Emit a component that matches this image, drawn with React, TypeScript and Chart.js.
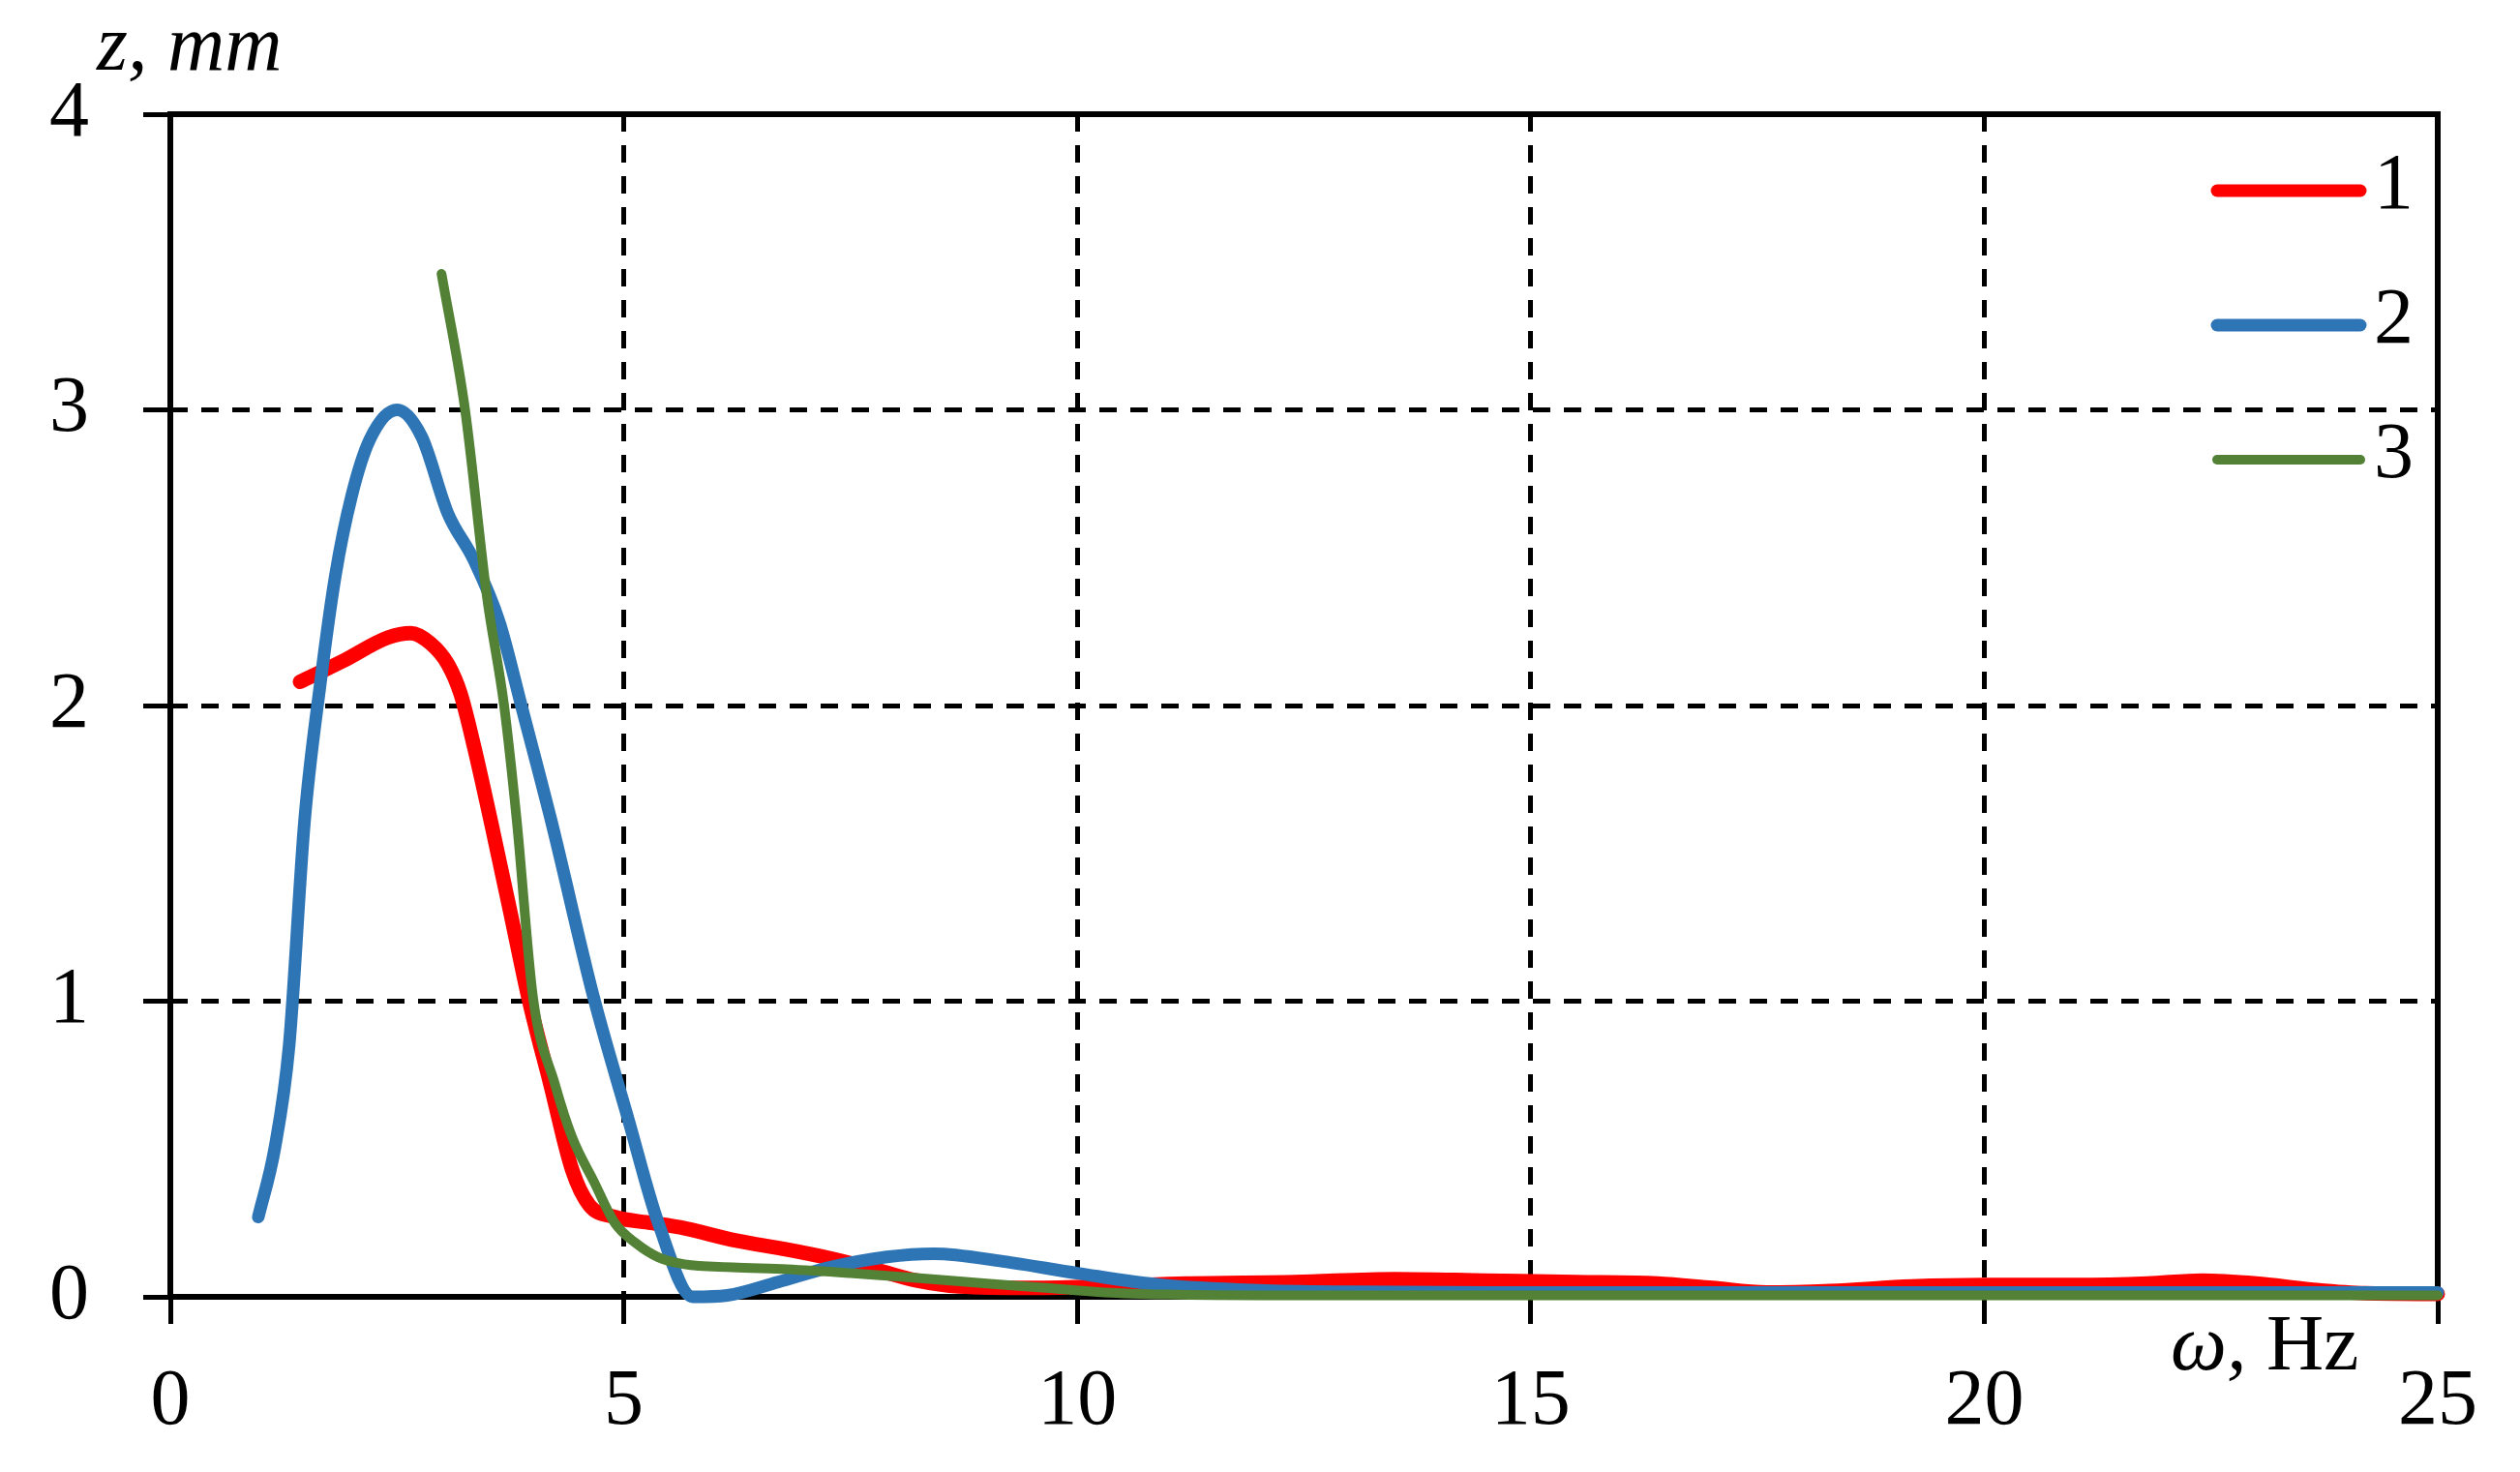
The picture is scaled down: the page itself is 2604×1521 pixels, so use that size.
import React, { useEffect, useRef } from 'react';
import { Chart, registerables } from 'chart.js';

Chart.register(...registerables);

// ---- Data ----
const X_TICKS = [0, 5, 10, 15, 20, 25];
const Y_TICKS = [0, 1, 2, 3, 4];
const SERIES_LABELS = ['1', '2', '3'];
const Y_TITLE = 'z, mm';
const X_TITLE_ITALIC = 'ω,';
const X_TITLE_ROMAN = ' Hz';

const S1_X = [1.43, 1.9, 2.4, 2.65, 2.87, 3.06, 3.2, 3.35, 3.54, 3.75, 3.95, 4.19, 4.43, 4.62, 4.9, 5.3, 5.62, 6.24, 6.8, 7.28, 7.8, 8.23, 8.7, 9.5, 10.3, 11.2, 12.4, 13.5, 14.5, 15.5, 16.4, 17.0, 17.6, 18.3, 19.2, 20.0, 21.0, 21.8, 22.4, 23.0, 23.6, 24.2, 25];
const S1_Y = [2.08, 2.15, 2.23, 2.245, 2.21, 2.14, 2.04, 1.86, 1.6, 1.3, 1.01, 0.72, 0.43, 0.31, 0.27, 0.25, 0.235, 0.19, 0.16, 0.13, 0.09, 0.055, 0.035, 0.03, 0.035, 0.045, 0.05, 0.06, 0.055, 0.05, 0.045, 0.03, 0.015, 0.02, 0.035, 0.04, 0.04, 0.045, 0.055, 0.045, 0.025, 0.012, 0.01];

const S2_X = [0.97, 1.15, 1.31, 1.48, 1.65, 1.82, 2.0, 2.2, 2.5, 2.77, 3.06, 3.35, 3.63, 3.87, 4.2, 4.67, 5.05, 5.38, 5.76, 6.14, 6.7, 7.28, 7.9, 8.42, 9.18, 10.0, 10.93, 12.0, 13.0, 15.0, 20.0, 25.0];
const S2_Y = [0.27, 0.5, 0.85, 1.61, 2.065, 2.44, 2.71, 2.9, 3.0, 2.91, 2.65, 2.49, 2.28, 2.0, 1.61, 1.01, 0.6, 0.25, 0.0, 0.005, 0.05, 0.1, 0.135, 0.146, 0.12, 0.08, 0.04, 0.022, 0.017, 0.015, 0.015, 0.015];

const S3_X = [2.99, 3.25, 3.49, 3.68, 3.82, 4.0, 4.24, 4.43, 4.67, 4.9, 5.14, 5.38, 5.67, 6.2, 6.8, 7.5, 8.23, 9.0, 9.66, 10.3, 11.0, 12.0, 15.0, 20.0, 25.0];
const S3_Y = [3.46, 3.0, 2.37, 2.0, 1.61, 1.01, 0.72, 0.54, 0.39, 0.25, 0.18, 0.134, 0.11, 0.1, 0.093, 0.08, 0.064, 0.045, 0.03, 0.015, 0.008, 0.005, 0.005, 0.005, 0.005];

const COLORS = ['#FF0000', '#2E75B6', '#538135'];
const WIDTHS = [15, 13, 10];

const FONT = "'Liberation Serif', 'DejaVu Serif', serif";
const FONT_SIZE = 82;

const toPoints = (xs: number[], ys: number[]) => xs.map((x, i) => ({ x, y: ys[i] }));

const framePlugin = {
  id: 'frame',
  beforeDatasetsDraw(chart: any) {
    const { ctx, chartArea: a } = chart;
    ctx.save();
    ctx.strokeStyle = '#000';
    ctx.lineWidth = 6;
    ctx.setLineDash([]);
    ctx.strokeRect(a.left, a.top, a.right - a.left, a.bottom - a.top);
    ctx.restore();
  },
};

const textPlugin = {
  id: 'texts',
  afterDraw(chart: any) {
    const { ctx, chartArea: a } = chart;
    ctx.save();
    ctx.fillStyle = '#000';
    ctx.textBaseline = 'alphabetic';
    ctx.textAlign = 'left';
    // y title
    ctx.font = `italic ${FONT_SIZE}px ${FONT}`;
    ctx.fillText(Y_TITLE, a.left - 76, a.top - 46);
    // x title
    const xl = a.right - 276;
    const yb = a.bottom + 75;
    ctx.font = `italic ${FONT_SIZE}px ${FONT}`;
    ctx.fillText(X_TITLE_ITALIC, xl, yb);
    const w = ctx.measureText(X_TITLE_ITALIC).width;
    ctx.font = `${FONT_SIZE}px ${FONT}`;
    ctx.fillText(X_TITLE_ROMAN, xl + w, yb);
    // legend
    const ds = chart.data.datasets;
    ds.forEach((d: any, i: number) => {
      const y = a.top + 79 + i * 139;
      ctx.strokeStyle = d.borderColor;
      ctx.lineWidth = Math.min(d.borderWidth, 13);
      ctx.lineCap = 'round';
      ctx.beginPath();
      ctx.moveTo(a.right - 228, y);
      ctx.lineTo(a.right - 80, y);
      ctx.stroke();
      ctx.font = `${FONT_SIZE}px ${FONT}`;
      ctx.textBaseline = 'middle';
      ctx.fillText(d.label, a.right - 66, y - 4);
    });
    ctx.restore();
  },
};

export default function App() {
  const ref = useRef<HTMLCanvasElement | null>(null);
  useEffect(() => {
    document.body.style.margin = '0';
    if (!ref.current) return;
    const series = [toPoints(S1_X, S1_Y), toPoints(S2_X, S2_Y), toPoints(S3_X, S3_Y)];
    const edgeTransparent = (edges: number[]) => (c: any) =>
      c.tick && edges.includes(c.tick.value) ? 'rgba(0,0,0,0)' : '#000';
    const chart = new Chart(ref.current, {
      type: 'line',
      data: {
        datasets: series.map((pts, i) => ({
          label: SERIES_LABELS[i],
          data: pts,
          borderColor: COLORS[i],
          backgroundColor: COLORS[i],
          borderWidth: WIDTHS[i],
          borderCapStyle: 'round',
          borderJoinStyle: 'round',
          pointRadius: 0,
          fill: false,
          cubicInterpolationMode: 'monotone',
          clip: false,
          order: series.length - i,
        })),
      },
      options: {
        responsive: false,
        animation: false,
        events: [],
        layout: { padding: { top: 118, right: 85, left: 0, bottom: 0 } },
        plugins: { legend: { display: false }, tooltip: { enabled: false }, title: { display: false } },
        scales: {
          x: {
            type: 'linear',
            min: 0,
            max: 25,
            afterFit: (s: any) => { s.height = 181; },
            afterBuildTicks: (s: any) => { s.ticks = X_TICKS.map((v) => ({ value: v })); },
            ticks: {
              font: { family: FONT, size: FONT_SIZE },
              color: '#000',
              padding: 32,
              maxRotation: 0,
              autoSkip: false,
              callback: (v: any) => String(v),
            },
            grid: {
              color: edgeTransparent([0, 25]),
              lineWidth: 5,
              tickLength: 28,
              tickWidth: 5,
              tickColor: '#000',
              tickBorderDash: [],
            },
            border: { display: false, dash: [18, 14] },
          },
          y: {
            type: 'linear',
            min: 0,
            max: 4,
            afterFit: (s: any) => { s.width = 176; },
            afterBuildTicks: (s: any) => { s.ticks = Y_TICKS.map((v) => ({ value: v })); },
            ticks: {
              font: { family: FONT, size: FONT_SIZE },
              color: '#000',
              padding: 56,
              autoSkip: false,
              callback: (v: any) => String(v),
            },
            grid: {
              color: edgeTransparent([0, 4]),
              lineWidth: 5,
              tickLength: 28,
              tickWidth: 5,
              tickColor: '#000',
              tickBorderDash: [],
            },
            border: { display: false, dash: [18, 14] },
          },
        },
      },
      plugins: [framePlugin, textPlugin],
    } as any);
    return () => chart.destroy();
  }, []);
  return <canvas ref={ref} width={2604} height={1521} style={{ display: 'block', width: 2604, height: 1521 }} />;
}
